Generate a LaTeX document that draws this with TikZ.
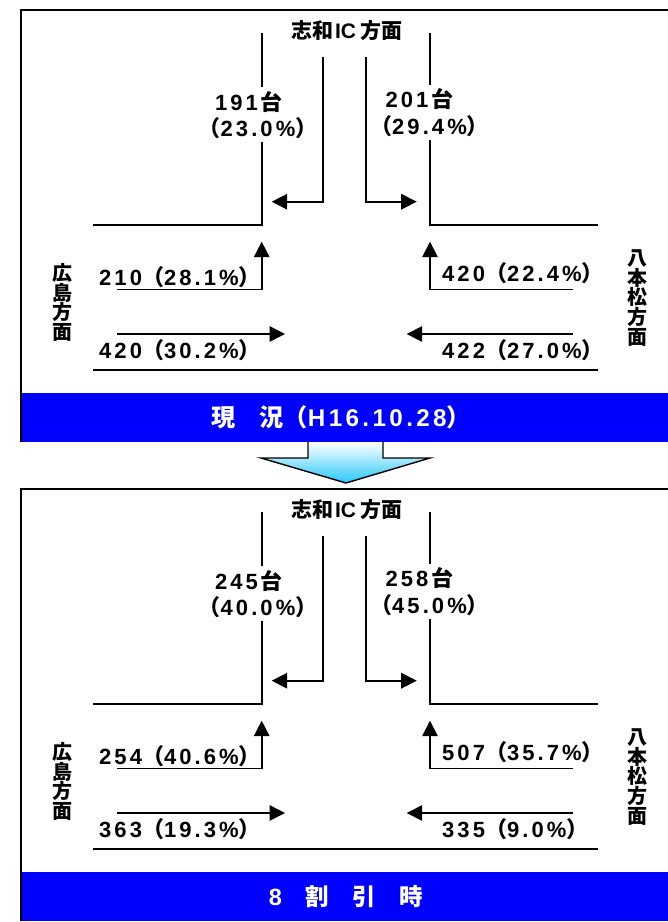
\documentclass[tikz,border=0pt]{standalone}
\usepackage{fontspec}
\setmainfont{Liberation Sans}
\newfontfamily\lat{Liberation Sans}[LetterSpace=14]
\newfontfamily\jp{Noto Sans CJK JP}
\usetikzlibrary{arrows.meta}
\definecolor{bandblue}{RGB}{0,0,255}
\definecolor{arrowblue}{RGB}{40,200,250}
\newcommand\lp{{\jp\bfseries （}}
\newcommand\rp{{\jp\bfseries ）}}
\newcommand\nm[1]{{\lat\bfseries #1}}
\newcommand\kj[1]{{\jp\bfseries #1}}
\tikzset{
  road/.style={line width=1.6pt},
  flow/.style={line width=1.6pt,-{Triangle[length=15.5pt,width=15.5pt]}},
  boxline/.style={line width=1.8pt},
  lbl/.style={font=\fontsize{22}{22}\selectfont, inner sep=0pt},
  nlbl/.style={font=\fontsize{21}{21}\selectfont, inner sep=0pt},
  vlbl/.style={font=\jp\bfseries\fontsize{20}{19.7}\selectfont, inner sep=0pt, align=center},
  bandtxt/.style={font=\fontsize{24.2}{24.2}\selectfont, inner sep=0pt, text=white},
}
% #1 left count, #2 left pct, #3 right count, #4 right pct,
% #5 left upper, #6 left lower, #7 right upper, #8 right lower
\newcommand\drawpanel[8]{%
  \fill[bandblue] (21,393) rectangle (700,442);
  \draw[boxline] (700,10) -- (21,10) -- (21,442);
  % roads
  \coordinate (nlt) at (262,33);  \coordinate (nlg1) at (262,87);
  \coordinate (nlg2) at (262,142); \coordinate (nlc) at (262,225);
  \coordinate (wend) at (93,225);
  \coordinate (nrt) at (430,33);  \coordinate (nrg1) at (430,85);
  \coordinate (nrg2) at (430,140); \coordinate (nrc) at (430,225);
  \coordinate (eend) at (598,225);
  \coordinate (bw) at (93,370); \coordinate (be) at (598,370);
  \draw[road] (nlt) -- (nlg1);
  \draw[road] (nlg2) -- (nlc) -- (wend);
  \draw[road] (nrt) -- (nrg1);
  \draw[road] (nrg2) -- (nrc) -- (eend);
  \draw[road] (bw) -- (be);
  % flows
  \coordinate (ils) at (323,57); \coordinate (ilt) at (271.7,201.7);
  \coordinate (irs) at (366,57); \coordinate (irt) at (416.7,201.7);
  \draw[flow] (ils) |- (ilt);
  \draw[flow] (irs) |- (irt);
  \coordinate (lts) at (117,289.3); \coordinate (ltt) at (261.7,241.7);
  \draw[flow] (lts) -| (ltt);
  \coordinate (lss) at (117,334); \coordinate (lst) at (285,334);
  \draw[flow] (lss) -- (lst);
  \coordinate (rts) at (573,289.3); \coordinate (rtt) at (430,241.7);
  \draw[flow] (rts) -| (rtt);
  \coordinate (rss) at (573,334); \coordinate (rst) at (406.7,334);
  \draw[flow] (rss) -- (rst);
  % texts
  \node[nlbl] (north) at (346.5,31) {\kj{志和}\kern2pt{\bfseries IC}\kern4pt\kj{方面}};
  \node[lbl, anchor=base] (lc) at (249,110) {\nm{#1}\kern3pt\kj{台}};
  \node[lbl, anchor=base] (lp) at (258,136) {\lp\nm{#2\%}\rp};
  \node[lbl, anchor=base] (rc) at (419.5,107.5) {\nm{#3}\kern3pt\kj{台}};
  \node[lbl, anchor=base] (rp) at (429.5,134) {\lp\nm{#4\%}\rp};
  \node[lbl, anchor=base west] (lu) at (99,285) {#5};
  \node[lbl, anchor=base west] (ll) at (99,358) {#6};
  \node[lbl, anchor=base west] (ru) at (442,281.7) {#7};
  \node[lbl, anchor=base west] (rl) at (442,358) {#8};
  \node[vlbl] (west) at (62,302.5) {広\\島\\方\\面};
  \node[vlbl] (east) at (637.5,298) {八\\本\\松\\方\\面};
}
\begin{document}
\begin{tikzpicture}[x=1pt,y=-1pt]
\useasboundingbox (0,0) rectangle (668,922);
\clip (0,0) rectangle (668,922);
\begin{scope}[name prefix=top-]
\drawpanel{191}{23.0}{201}{29.4}%
  {\nm{210}\lp\nm{28.1\%}\rp}%
  {\nm{420}\lp\nm{30.2\%}\rp}%
  {\nm{420}\lp\nm{22.4\%}\rp}%
  {\nm{422}\lp\nm{27.0\%}\rp}
\node[bandtxt] (band) at (341,417.5) {\kj{現　況}\lp\nm{H16.10.28}\rp};
\end{scope}
\begin{scope}[name prefix=bot-, shift={(0,479)}]
\drawpanel{245}{40.0}{258}{45.0}%
  {\nm{254}\lp\nm{40.6\%}\rp}%
  {\nm{363}\lp\nm{19.3\%}\rp}%
  {\nm{507}\lp\nm{35.7\%}\rp}%
  {\nm{335}\lp\nm{9.0\%}\rp}
\node[bandtxt, font=\fontsize{23.5}{23.5}\selectfont] (band) at (346,417.5) {\nm{8}\kj{　割　引　時}};
\end{scope}
% transition arrow
\coordinate (a1) at (308,442); \coordinate (a2) at (308,458);
\coordinate (a3) at (261,458); \coordinate (a4) at (346,483);
\coordinate (a5) at (430,458); \coordinate (a6) at (383,458);
\coordinate (a7) at (383,442);
\shade[top color=white, bottom color=arrowblue] (a1) -- (a2) -- (a3) -- (a4) -- (a5) -- (a6) -- (a7) -- cycle;
\draw[line width=1.4pt, line join=miter] (a1) -- (a2) -- (a3) -- (a4) -- (a5) -- (a6) -- (a7);
\end{tikzpicture}
\end{document}
